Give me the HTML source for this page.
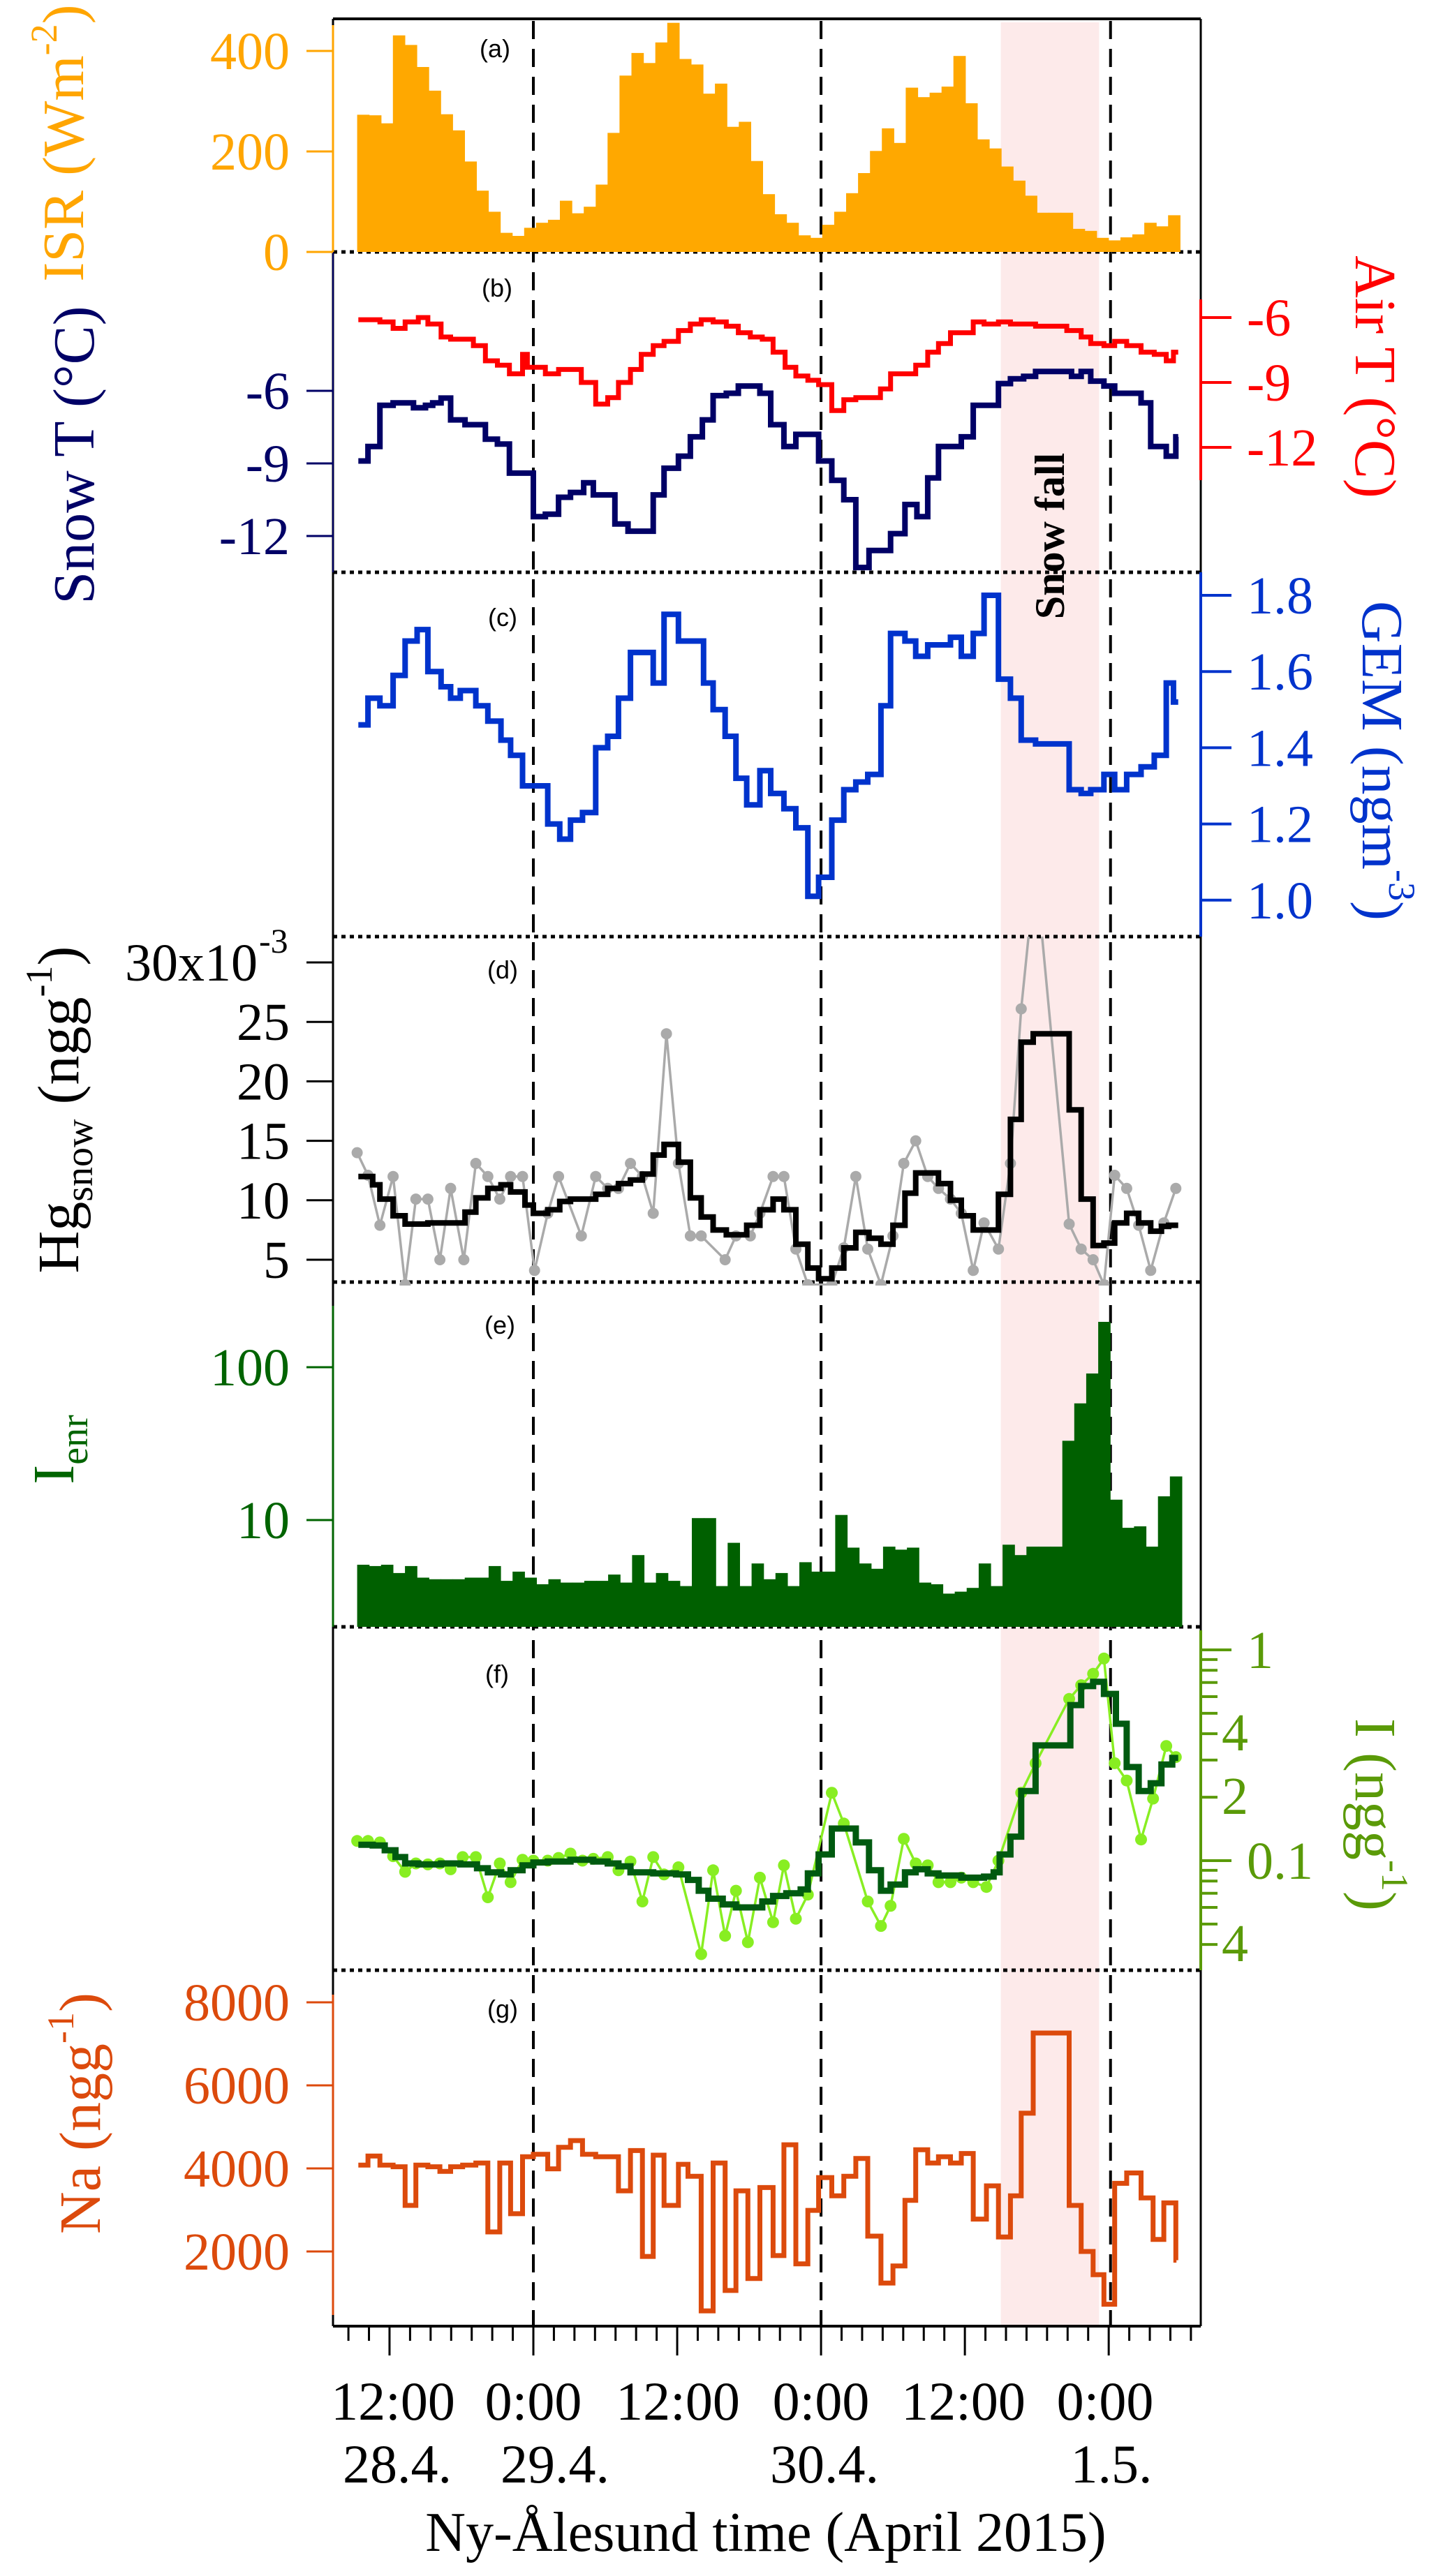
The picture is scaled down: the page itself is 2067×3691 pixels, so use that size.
<!DOCTYPE html>
<html><head><meta charset="utf-8"><style>
html,body{margin:0;padding:0;background:#fff;}
svg{display:block;}
svg text{font-family:"Liberation Serif",serif;}
svg text.sans{font-family:"Liberation Sans",sans-serif;}
</style></head><body>
<svg id="chart" width="2067" height="3691" viewBox="0 0 2067 3691" xmlns="http://www.w3.org/2000/svg" font-family="Liberation Serif, serif">
<defs>
<clipPath id="clipD"><rect x="477" y="1342" width="1243" height="500"/></clipPath>
<clipPath id="clipF"><rect x="477" y="2331" width="1243" height="495"/></clipPath>
</defs>
<rect x="0" y="0" width="2067" height="3691" fill="#fff"/>
<g id="band"></g>
<g id="frame"></g>
<g id="marks"></g>
<g id="labels" font-size="76" font-family="Liberation Serif, serif">
 <text class="sans" x="709" y="82" font-family="Liberation Sans, sans-serif" font-size="36" text-anchor="middle">(a)</text>
 <text class="sans" x="712" y="425" font-family="Liberation Sans, sans-serif" font-size="36" text-anchor="middle">(b)</text>
 <text class="sans" x="720" y="897" font-family="Liberation Sans, sans-serif" font-size="36" text-anchor="middle">(c)</text>
 <text class="sans" x="720" y="1402" font-family="Liberation Sans, sans-serif" font-size="36" text-anchor="middle">(d)</text>
 <text class="sans" x="716" y="1911" font-family="Liberation Sans, sans-serif" font-size="36" text-anchor="middle">(e)</text>
 <text class="sans" x="712" y="2411" font-family="Liberation Sans, sans-serif" font-size="36" text-anchor="middle">(f)</text>
 <text class="sans" x="720" y="2891" font-family="Liberation Sans, sans-serif" font-size="36" text-anchor="middle">(g)</text>
 <text transform="translate(1524,768) rotate(-90)" text-anchor="middle" font-size="60" font-weight="bold">Snow fall</text>

 <text transform="translate(119,205) rotate(-90)" text-anchor="middle" font-size="84" fill="#FFA500">ISR (Wm<tspan font-size="54" dy="-38">-2</tspan><tspan dy="38">)</tspan></text>
 <text transform="translate(134,652) rotate(-90)" text-anchor="middle" font-size="84" fill="#000066">Snow T (°C)</text>
 <text transform="translate(1942,540) rotate(90)" text-anchor="middle" font-size="84" fill="#FF0000">Air T (°C)</text>
 <text transform="translate(1952,1090) rotate(90)" text-anchor="middle" font-size="84" fill="#0033CC">GEM (ngm<tspan font-size="54" dy="-38">-3</tspan><tspan dy="38">)</tspan></text>
 <text transform="translate(112,1590) rotate(-90)" text-anchor="middle" font-size="84" fill="#000">Hg<tspan font-size="56" dy="20">snow</tspan><tspan dy="-20"> (ngg</tspan><tspan font-size="54" dy="-38">-1</tspan><tspan dy="38">)</tspan></text>
 <text transform="translate(105,2077) rotate(-90)" text-anchor="middle" font-size="84" fill="#006400">I<tspan font-size="56" dy="20">enr</tspan></text>
 <text transform="translate(1942,2600) rotate(90)" text-anchor="middle" font-size="84" fill="#5a9a08">I (ngg<tspan font-size="54" dy="-38">-1</tspan><tspan dy="38">)</tspan></text>
 <text transform="translate(143,3028) rotate(-90)" text-anchor="middle" font-size="84" fill="#dc4a0c">Na (ngg<tspan font-size="54" dy="-38">-1</tspan><tspan dy="38">)</tspan></text>

 <text x="563" y="3467" text-anchor="middle" font-size="78">12:00</text>
 <text x="764" y="3467" text-anchor="middle" font-size="78">0:00</text>
 <text x="971" y="3467" text-anchor="middle" font-size="78">12:00</text>
 <text x="1176" y="3467" text-anchor="middle" font-size="78">0:00</text>
 <text x="1380" y="3467" text-anchor="middle" font-size="78">12:00</text>
 <text x="1583" y="3467" text-anchor="middle" font-size="78">0:00</text>
 <text x="569" y="3557" text-anchor="middle" font-size="78">28.4.</text>
 <text x="795" y="3557" text-anchor="middle" font-size="78">29.4.</text>
 <text x="1181" y="3557" text-anchor="middle" font-size="78">30.4.</text>
 <text x="1592" y="3557" text-anchor="middle" font-size="78">1.5.</text>
 <text x="1097" y="3655" text-anchor="middle" font-size="80">Ny-Ålesund time (April 2015)</text>
</g>
</svg>
<script>
// ---------- data ----------
const isrStart = 9.3, isrEnd = 77.95;
const isrValues = [273,272,256,431,412,368,321,274,242,180,122,80,38,32,48,58,64,102,77,90,134,237,351,396,376,417,456,384,373,315,335,249,259,181,115,75,58,33,28,54,80,117,157,201,246,217,327,308,317,329,390,296,224,206,170,142,112,78,78,78,46,42,28,23,29,35,58,51,73];

const snowTimes = [9.4,10.2,11.2,12.3,14.0,15.0,15.6,16.3,17.1,18.3,20.0,21.0,22.0,23.1,24.0,25.0,26.1,27.1,28.2,29.0,30.8,31.9,34.0,34.9,36.1,37.1,38.1,39.0,40.1,41.1,42.9,43.8,44.9,45.9,47.8,48.9,49.9,50.9,52.0,53.8,55.0,56.0,56.9,57.8,59.7,60.7,62.8,63.8,64.9,65.9,68.9,69.7,70.5,71.6,72.5,74.7,75.5,76.8,77.6];
const snowValues = [-8.9,-8.3,-6.6,-6.5,-6.7,-6.6,-6.5,-6.3,-7.2,-7.4,-8.0,-8.2,-9.4,-9.4,-11.2,-11.1,-10.4,-10.2,-9.8,-10.3,-11.5,-11.8,-10.3,-9.2,-8.7,-7.9,-7.2,-6.2,-6.1,-5.8,-6.1,-7.4,-8.3,-7.8,-8.9,-9.7,-10.5,-13.3,-12.6,-11.9,-10.7,-11.2,-9.6,-8.3,-7.9,-6.6,-5.7,-5.5,-5.4,-5.2,-5.4,-5.2,-5.6,-5.8,-6.1,-6.5,-8.3,-8.7,-7.9];

const airTimes = [9.4,10.2,11.2,12.3,13.3,14.4,15.2,16.3,17.1,19.0,20.0,21.0,22.0,23.1,23.5,25.0,26.1,28.0,29.2,30.2,31.1,32.1,33.0,34.0,34.9,36.1,37.1,38.0,39.0,40.1,41.1,42.1,43.1,44.0,45.0,45.9,46.9,47.8,48.9,49.9,50.9,52.96,53.8,55.9,56.9,57.8,58.8,60.7,61.6,62.8,63.8,65.9,68.5,69.7,70.5,71.6,72.5,73.5,74.7,75.8,76.8,77.4];
const airValues = [-6.1,-6.1,-6.2,-6.5,-6.2,-6.0,-6.3,-6.9,-7.0,-7.3,-8.0,-8.2,-8.6,-7.7,-8.3,-8.6,-8.4,-9.0,-10.0,-9.7,-9.0,-8.4,-7.7,-7.3,-7.1,-6.6,-6.3,-6.1,-6.2,-6.4,-6.7,-6.9,-7.0,-7.6,-8.3,-8.7,-8.9,-9.1,-10.3,-9.8,-9.7,-9.3,-8.6,-8.2,-7.6,-7.2,-6.7,-6.2,-6.3,-6.2,-6.3,-6.4,-6.6,-6.9,-7.2,-7.3,-7.1,-7.3,-7.6,-7.7,-8.0,-7.6];

const gemTimes = [9.4,10.2,11.2,12.3,13.3,14.3,15.2,16.3,17.1,17.9,19.2,20.2,21.3,22.1,23.1,25.2,26.2,27.1,28.1,29.2,30.2,31.1,32.1,34.0,34.9,36.1,38.2,39.0,40.0,40.9,41.8,42.9,43.8,44.9,45.9,46.9,47.8,48.9,49.9,50.9,51.9,53.0,53.8,55.0,55.9,56.9,57.8,58.8,59.7,60.7,61.6,62.8,63.8,64.7,65.9,68.7,69.7,70.5,71.6,72.5,73.5,74.7,75.8,76.8,77.4];
const gemValues = [1.46,1.53,1.51,1.59,1.68,1.71,1.60,1.56,1.53,1.55,1.51,1.47,1.42,1.38,1.30,1.20,1.16,1.21,1.23,1.40,1.43,1.53,1.65,1.57,1.75,1.68,1.57,1.50,1.43,1.32,1.25,1.34,1.28,1.24,1.19,1.01,1.06,1.21,1.29,1.31,1.33,1.51,1.70,1.68,1.64,1.67,1.67,1.69,1.64,1.70,1.80,1.58,1.53,1.42,1.41,1.29,1.28,1.29,1.33,1.29,1.33,1.35,1.38,1.57,1.52];

const hgTimes = [9.4,10.6,11.2,12.3,13.3,15.2,17.1,18.3,19.2,20.2,21.3,22.1,23.3,24.0,25.2,26.2,27.1,29.2,30.2,31.1,32.1,33.1,34.0,34.9,36.1,37.1,38.0,39.0,40.1,41.8,42.9,44.0,44.9,45.9,46.9,47.8,48.9,49.9,50.9,52.0,53.0,54.0,55.0,55.9,57.8,58.8,59.7,60.7,61.6,62.8,63.8,64.7,65.7,68.7,69.7,70.7,71.6,72.5,73.5,74.5,75.5,76.4,77.0];
const hgValues = [12.0,11.3,10.1,8.7,8.0,8.1,8.1,9.0,10.2,11.0,11.3,10.7,9.6,8.9,9.2,9.9,10.1,10.5,11.0,11.4,11.7,12.2,13.8,14.7,13.2,10.2,8.6,7.5,7.1,7.9,9.2,10.1,9.2,6.3,4.3,3.4,4.3,6.0,7.3,6.8,6.3,7.9,10.6,12.3,11.4,10.0,8.7,7.5,7.5,10.5,16.8,23.3,24.0,17.6,10.1,6.2,6.4,8.1,8.9,8.1,7.4,7.8,7.9];
const hgRawTimes = [9.3,10.2,11.2,12.3,13.3,14.2,15.2,16.2,17.1,18.2,19.2,20.2,21.2,22.1,23.1,24.1,25.2,26.1,28.0,29.2,30.2,31.1,32.1,33.1,34.0,35.1,36.1,37.1,38.0,40.0,40.9,42.1,42.9,44.0,44.9,45.9,46.9,48.9,49.9,50.9,51.9,53.0,54.0,54.9,55.9,56.9,57.8,58.8,59.7,60.7,61.6,62.8,63.8,64.7,65.9,68.7,69.7,70.7,71.6,72.5,73.5,74.5,75.5,76.6,77.6];
const hgRawValues = [14.0,12.1,7.9,12.0,2.9,10.1,10.1,5.0,11.0,5.0,13.1,12.0,10.1,12.0,12.0,4.1,8.9,12.0,7.0,12.0,11.0,11.0,13.1,12.0,8.9,24.0,13.1,7.0,7.0,5.0,7.0,7.0,8.9,12.0,12.0,5.9,2.9,2.9,6.0,12.0,5.9,2.9,7.0,13.1,15.0,12.0,11.0,10.1,8.9,4.1,8.1,5.9,13.1,26.1,38.0,8.0,5.9,5.0,2.9,12.1,11.0,7.9,4.1,8.1,11.0];

const ienrStart = 9.3, ienrEnd = 78.1;
const ienrValues = [5.1,5.0,5.1,4.5,5.0,4.2,4.1,4.1,4.1,4.2,4.2,5.0,4.0,4.6,4.2,3.8,4.1,3.9,3.9,4.0,4.0,4.4,3.9,5.9,3.9,4.5,4.0,3.7,10.3,10.3,3.7,7.1,3.7,5.2,4.1,4.5,3.7,5.3,4.6,4.6,10.8,6.6,5.2,4.8,6.7,6.4,6.6,3.9,3.8,3.3,3.4,3.6,5.2,3.7,6.9,5.9,6.7,6.7,6.7,33,58,91,198,13.6,8.9,9.1,6.7,14.3,19.3];

const iTimes = [9.4,10.6,11.6,12.5,13.3,14.4,16.3,17.9,19.3,20.2,21.3,22.1,23.1,24.0,25.2,27.1,29.0,30.2,31.1,32.1,34.0,35.9,36.9,37.8,38.6,39.8,40.9,42.1,43.1,44.0,45.1,46.3,46.9,47.8,48.9,50.9,52.0,53.0,53.8,55.0,55.9,56.9,57.8,59.7,61.6,62.4,62.9,63.8,64.7,65.9,68.8,69.7,70.7,71.6,72.6,73.5,74.5,75.5,76.4,77.3];
const iValues = [0.119,0.118,0.112,0.104,0.097,0.096,0.097,0.096,0.092,0.088,0.086,0.090,0.095,0.098,0.099,0.101,0.099,0.097,0.094,0.088,0.087,0.086,0.081,0.072,0.066,0.062,0.060,0.060,0.064,0.068,0.070,0.073,0.087,0.107,0.142,0.122,0.090,0.072,0.077,0.088,0.091,0.087,0.085,0.083,0.084,0.088,0.107,0.13,0.214,0.352,0.547,0.673,0.705,0.618,0.446,0.278,0.214,0.233,0.286,0.307];
const iRawTimes = [9.3,10.2,11.2,12.3,13.3,14.2,15.2,16.2,17.1,18.1,19.2,20.2,21.2,22.1,23.1,24.0,25.2,26.1,27.1,28.1,29.0,30.2,31.1,32.1,33.1,34.0,34.9,36.1,38.0,39.0,40.0,40.9,41.9,42.9,44.0,44.9,45.9,46.9,48.9,49.9,51.9,53.0,53.8,54.9,55.9,56.9,57.8,58.8,59.7,60.7,61.8,62.8,64.7,65.9,68.7,69.7,70.7,71.6,72.5,73.5,74.7,75.7,76.8,77.6];
const iRawValues = [0.124,0.124,0.122,0.105,0.0885,0.097,0.096,0.097,0.091,0.104,0.104,0.067,0.097,0.079,0.101,0.1,0.1,0.103,0.108,0.1,0.102,0.104,0.09,0.099,0.064,0.104,0.086,0.093,0.036,0.09,0.044,0.072,0.041,0.083,0.051,0.095,0.053,0.069,0.21,0.15,0.064,0.049,0.061,0.127,0.097,0.095,0.079,0.079,0.083,0.079,0.075,0.10,0.21,0.29,0.585,0.68,0.77,0.91,0.29,0.24,0.126,0.197,0.35,0.31];

const naTimes = [9.4,10.2,11.2,12.3,13.3,14.2,15.2,16.2,17.1,18.1,19.2,20.2,21.2,22.1,23.1,24.0,25.2,26.1,27.1,28.1,29.2,31.1,32.1,33.1,34.0,34.9,36.1,36.9,38.0,39.0,40.0,40.9,41.9,42.9,44.0,44.9,45.9,46.9,47.8,48.9,49.9,50.9,51.9,53.0,54.0,55.0,55.9,56.9,57.8,58.8,59.7,60.7,61.8,62.8,63.8,64.7,65.7,68.7,69.7,70.7,71.6,72.5,73.5,74.7,75.7,76.6,77.6];
const naValues = [4080,4300,4080,4040,3110,4080,4040,3930,4040,4080,4130,2470,4130,2910,4280,4340,3990,4510,4670,4340,4280,3460,4430,1880,4320,3110,4100,3810,570,4130,1060,3460,1350,3540,1900,4570,1700,2990,3780,3340,3810,4240,2370,1240,1650,3230,4450,4130,4280,4130,4360,2780,3580,2350,3340,5330,7260,3110,2000,1440,730,3640,3890,3290,2290,3170,1790];

const isrTicks = [0,200,400], snowTicks = [-6,-9,-12], airTicks = [-6,-9,-12];
const gemTicks = [1.0,1.2,1.4,1.6,1.8], hgTicks = [5,10,15,20,25], ienrTicks = [10,100];
const naTicks = [2000,4000,6000,8000];
const iMajorTicks = [1,0.1], iLabeledMinor = [0.4,0.2,0.04];
const dayLines = [24,48,72.15];
const snowfall = [63.0, 71.2];

// ---------- scales ----------
const NS = "http://www.w3.org/2000/svg";
const X0 = 764, PXH = 17.17, L = 477, R = 1720;
function xT(t){ return X0 + (t-24)*PXH; }
function yISR(v){ return 361 - v*0.72; }
function ySnow(v){ return 560 + (-6 - v)*34.67; }
function yAir(v){ return 455 + (-6 - v)*31; }
function yGEM(v){ return 853 + (1.8 - v)*546; }
function yHg(v){ return 1805 - (v-5)*17.04; }
function yIenr(v){ return 2178 - (Math.log10(v)-1)*219; }
function yI(v){ return 2364 - Math.log10(v)*302; }
function yNa(v){ return 3226 - (v-2000)*0.0595; }

function mk(tag, attrs, parent){
  const e = document.createElementNS(NS, tag);
  for (const k in attrs) e.setAttribute(k, attrs[k]);
  (parent||document.getElementById('marks')).appendChild(e);
  return e;
}
function stepD(ts, vs, tEnd, yf){
  let d = 'M' + xT(ts[0]).toFixed(1) + ' ' + yf(vs[0]).toFixed(1);
  for (let i=1;i<ts.length;i++){
    d += ' H' + xT(ts[i]).toFixed(1) + ' V' + yf(vs[i]).toFixed(1);
  }
  d += ' H' + xT(tEnd).toFixed(1);
  return d;
}
function lineD(ts, vs, yf){
  return ts.map((t,i)=>(i?'L':'M')+xT(t).toFixed(1)+' '+yf(vs[i]).toFixed(1)).join(' ');
}

const band = document.getElementById('band');
const frame = document.getElementById('frame');
const labels = document.getElementById('labels');

let sb = mk('rect',{x:xT(snowfall[0]),y:32,width:xT(snowfall[1])-xT(snowfall[0]),height:3301,fill:'#fdeaea'},band);



const isrW = (isrEnd-isrStart)/isrValues.length;
isrValues.forEach((v,i)=>{
  const x1 = xT(isrStart+i*isrW), x2 = xT(isrStart+(i+1)*isrW);
  const r = mk('rect',{x:x1.toFixed(1),y:yISR(v).toFixed(1),width:(x2-x1+0.6).toFixed(1),height:(yISR(0)-yISR(v)).toFixed(1),fill:'#FFA800'});
  
  
});

const ienrW = (ienrEnd-ienrStart)/ienrValues.length;
ienrValues.forEach((v,i)=>{
  const x1 = xT(ienrStart+i*ienrW), x2 = xT(ienrStart+(i+1)*ienrW);
  const r = mk('rect',{x:x1.toFixed(1),y:yIenr(v).toFixed(1),width:(x2-x1+0.6).toFixed(1),height:(2331-yIenr(v)).toFixed(1),fill:'#006000'});
  
  
});

let p;
p = mk('path',{d:stepD(airTimes,airValues,77.8,yAir),fill:'none',stroke:'#FF0000','stroke-width':7});


p = mk('path',{d:stepD(snowTimes,snowValues,77.8,ySnow),fill:'none',stroke:'#000066','stroke-width':8});


p = mk('path',{d:stepD(gemTimes,gemValues,77.8,yGEM),fill:'none',stroke:'#0033CC','stroke-width':8});



const gD = mk('g',{'clip-path':'url(#clipD)'});
p = mk('path',{d:lineD(hgRawTimes,hgRawValues,yHg),fill:'none',stroke:'#aaaaaa','stroke-width':3.5},gD);


hgRawTimes.forEach((t,i)=>{
  const c = mk('circle',{cx:xT(t).toFixed(1),cy:yHg(hgRawValues[i]).toFixed(1),r:8,fill:'#aaaaaa'},gD);
  
  
});
p = mk('path',{d:stepD(hgTimes,hgValues,77.8,yHg),fill:'none',stroke:'#000','stroke-width':8},gD);



const gF = mk('g',{'clip-path':'url(#clipF)'});
p = mk('path',{d:lineD(iRawTimes,iRawValues,yI),fill:'none',stroke:'#88ee22','stroke-width':3.5},gF);


iRawTimes.forEach((t,i)=>{
  const c = mk('circle',{cx:xT(t).toFixed(1),cy:yI(iRawValues[i]).toFixed(1),r:8.5,fill:'#88ee22'},gF);
  
  
});
p = mk('path',{d:stepD(iTimes,iValues,77.8,yI),fill:'none',stroke:'#005a10','stroke-width':9},gF);



p = mk('path',{d:stepD(naTimes,naValues,77.65,yNa),fill:'none',stroke:'#dc4a0c','stroke-width':7});



function line(x1,y1,x2,y2,stroke,w,extra,name){
  const e = mk('line',Object.assign({x1:x1,y1:y1,x2:x2,y2:y2,stroke:stroke,'stroke-width':w},extra||{}),frame);
  
  
  return e;
}
dayLines.forEach(t=>{
  line(xT(t),30,xT(t),3333,'#000',4,{'stroke-dasharray':'26 14'},'day-divider-line');
});
line(L,27,R,27,'#000',4,null,'top-border');
line(L,27,L,3333,'#000',3,null,'left-border');
line(R,27,R,3333,'#000',3,null,'right-border');
line(L,3333,R,3333,'#000',4,null,'x-axis-line');
[361,820,1342,1837,2331,2823].forEach(y=>{
  line(L,y,R,y,'#000',5,{'stroke-dasharray':'6 6'},'panel-separator');
});
line(L,36,L,361,'#FFA500',3,null,'isr-axis-spine');
line(L,361,L,820,'#000066',2,null,'snow-t-axis-spine');
line(L,1871,L,2331,'#006400',3,null,'ienr-axis-spine');
line(L,2858,L,3317,'#dc4a0c',3,null,'na-axis-spine');
line(R,429,R,688,'#FF0000',4,null,'air-t-axis-spine');
line(R,820,R,1342,'#0033CC',4,null,'gem-axis-spine');
line(R,2336,R,2823,'#5a9a08',4,null,'i-axis-spine');

for (let k=-3;k<=39;k++){
  const t = 12 + k*12/7;
  if (t<8 || t>78.9) continue;
  const major = (k%7===0);
  line(xT(t),3333,xT(t),major?3375:3354,'#000',3,null,major?'x-major-tick':'x-minor-tick');
}

function ytext(x,y,txt,color,anchor,name){
  const e = mk('text',{x:x,y:y,fill:color,'text-anchor':anchor,'font-size':76,'font-family':'Liberation Serif, serif'},labels);
  e.textContent = txt;
  
  
  return e;
}
function leftTicks(ticks,yf,color,name,fmt){
  ticks.forEach(v=>{
    line(439,yf(v),L,yf(v),color,3,null,name+'-tick');
    ytext(415,yf(v)+26,fmt?fmt(v):String(v),color,'end',name+'-tick-label');
  });
}
function rightTicks(ticks,yf,color,name,fmt){
  ticks.forEach(v=>{
    line(R,yf(v),1764,yf(v),color,4,null,name+'-tick');
    ytext(1786,yf(v)+26,fmt?fmt(v):String(v),color,'start',name+'-tick-label');
  });
}
leftTicks(isrTicks,yISR,'#FFA500','isr');
leftTicks(snowTicks,ySnow,'#000066','snow-t');
leftTicks(hgTicks,yHg,'#000','hg');
line(439,yHg(30),L,yHg(30),'#000',3,null,'hg-tick');
{
  const e = mk('text',{x:369,y:yHg(30)+26,fill:'#000','text-anchor':'end','font-size':76,'font-family':'Liberation Serif, serif'},labels);
  e.textContent = '30x10';
  
  
  const s = mk('text',{x:371,y:yHg(30)-14,fill:'#000','font-size':50,'font-family':'Liberation Serif, serif'},labels);
  s.textContent = '-3';
  
  
}
leftTicks(ienrTicks,yIenr,'#006400','ienr');
leftTicks(naTicks,yNa,'#dc4a0c','na');
rightTicks(airTicks,yAir,'#FF0000','air-t');
rightTicks(gemTicks,yGEM,'#0033CC','gem',v=>v.toFixed(1));
rightTicks(iMajorTicks,yI,'#5a9a08','i');
[0.2,0.3,0.4,0.5,0.6,0.7,0.8,0.9,0.04,0.05,0.06,0.07,0.08,0.09].forEach(v=>{
  line(R,yI(v),1744,yI(v),'#5a9a08',4,null,'i-minor-tick');
});
iLabeledMinor.forEach(v=>{
  ytext(1750,yI(v)+24,String(Math.round(v/Math.pow(10,Math.floor(Math.log10(v)+1e-9)))),'#5a9a08','start','i-minor-tick-label');
});
</script>
</body></html>
